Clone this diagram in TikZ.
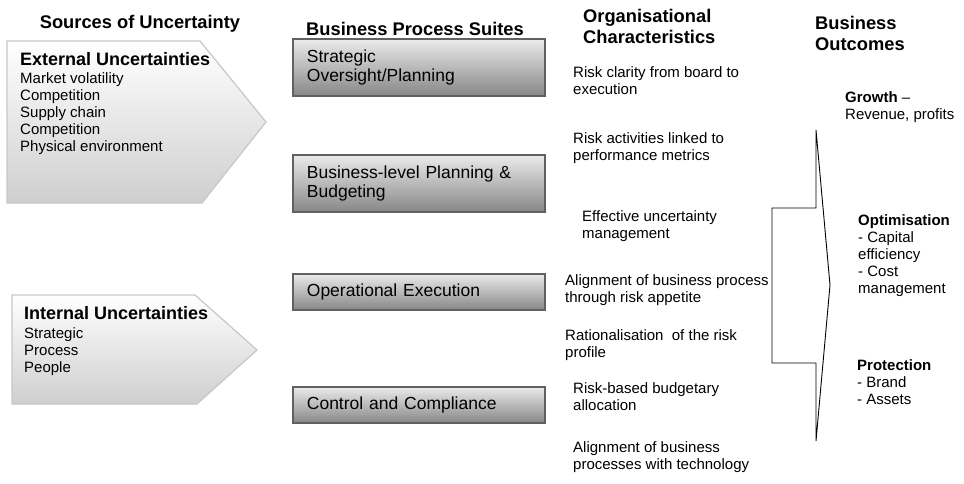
\documentclass[tikz,border=0pt]{standalone}
\usepackage{fontspec}
\setmainfont{Liberation Sans}
\begin{document}
\begin{tikzpicture}[x=1pt,y=-1pt,
  hdr/.style={font=\fontsize{18.3}{21}\selectfont\bfseries, inner sep=0pt, align=left},
  ttl/.style={font=\fontsize{18}{21}\selectfont\bfseries, inner sep=0pt, anchor=north west},
  txt/.style={font=\fontsize{15}{17.2}\selectfont, inner sep=0pt, align=left, anchor=north west},
  suite/.style={draw=black!62, line width=1.8pt, top color=black!8, middle color=white, bottom color=black!47,
    text width=224pt, inner xsep=14pt, inner ysep=0pt, align=left, font=\fontsize{17.5}{19.5}\selectfont, anchor=north west},
  srcarrow/.style={draw=black!22, line width=1.2pt, top color=white, bottom color=black!19},
  bracket/.style={draw=black, line width=0.9pt}
]
\useasboundingbox (0,0) rectangle (964,484);

% headers
\node[hdr, anchor=north] (h1) at (140,15) {Sources of Uncertainty};
\node[hdr, anchor=north west] (h2) at (306,22) {Business Process Suites};
\node[hdr, anchor=north west] (h3) at (583,9) {Organisational\\Characteristics};
\node[hdr, anchor=north west] (h4) at (815,16) {Business\\Outcomes};

% source arrows
\path[srcarrow] (7,41) -- (200,41) -- (266,122) -- (202,203) -- (7,203) -- cycle;
\path[srcarrow] (12,295) -- (195,295) -- (257,350) -- (197,404) -- (12,404) -- cycle;

\node[ttl] (ext) at (20,52) {External Uncertainties};
\node[txt] (extl) at (20,72) {Market volatility\\Competition\\Supply chain\\Competition\\Physical environment};
\node[ttl] (int) at (24,306) {Internal Uncertainties};
\node[txt] (intl) at (24,327) {Strategic\\Process\\People};

% business process suites
\node[suite, minimum height=57pt] (s1) at (292,38) {Strategic\\Oversight/Planning};
\node[suite, minimum height=57pt] (s2) at (292,154) {Business-level Planning \&\\Budgeting};
\node[suite, minimum height=36pt] (s3) at (292,273) {Operational Execution};
\node[suite, minimum height=36pt] (s4) at (292,386) {Control and Compliance};

% organisational characteristics
\node[txt] (o1) at (573,66) {Risk clarity from board to\\execution};
\node[txt] (o2) at (573,132) {Risk activities linked to\\performance metrics};
\node[txt] (o3) at (582,210) {Effective uncertainty\\management};
\node[txt] (o4) at (565,274) {Alignment of business process\\through risk appetite};
\node[txt] (o5) at (565,329) {Rationalisation\ \ of the risk\\profile};
\node[txt] (o6) at (573,382) {Risk-based budgetary\\allocation};
\node[txt] (o7) at (573,441) {Alignment of business\\processes with technology};

% bracket arrow
\draw[bracket] (816,130) -- (816,208) -- (772,208) -- (772,363) -- (816,363) -- (816,441) -- (830,285) -- cycle;

% outcomes
\node[txt] (g) at (845,91) {\textbf{Growth} --\\Revenue, profits};
\node[txt] (op) at (858,214) {\textbf{Optimisation}\\- Capital\\efficiency\\- Cost\\management};
\node[txt] (pr) at (857,359) {\textbf{Protection}\\- Brand\\- Assets};
\end{tikzpicture}
\end{document}
